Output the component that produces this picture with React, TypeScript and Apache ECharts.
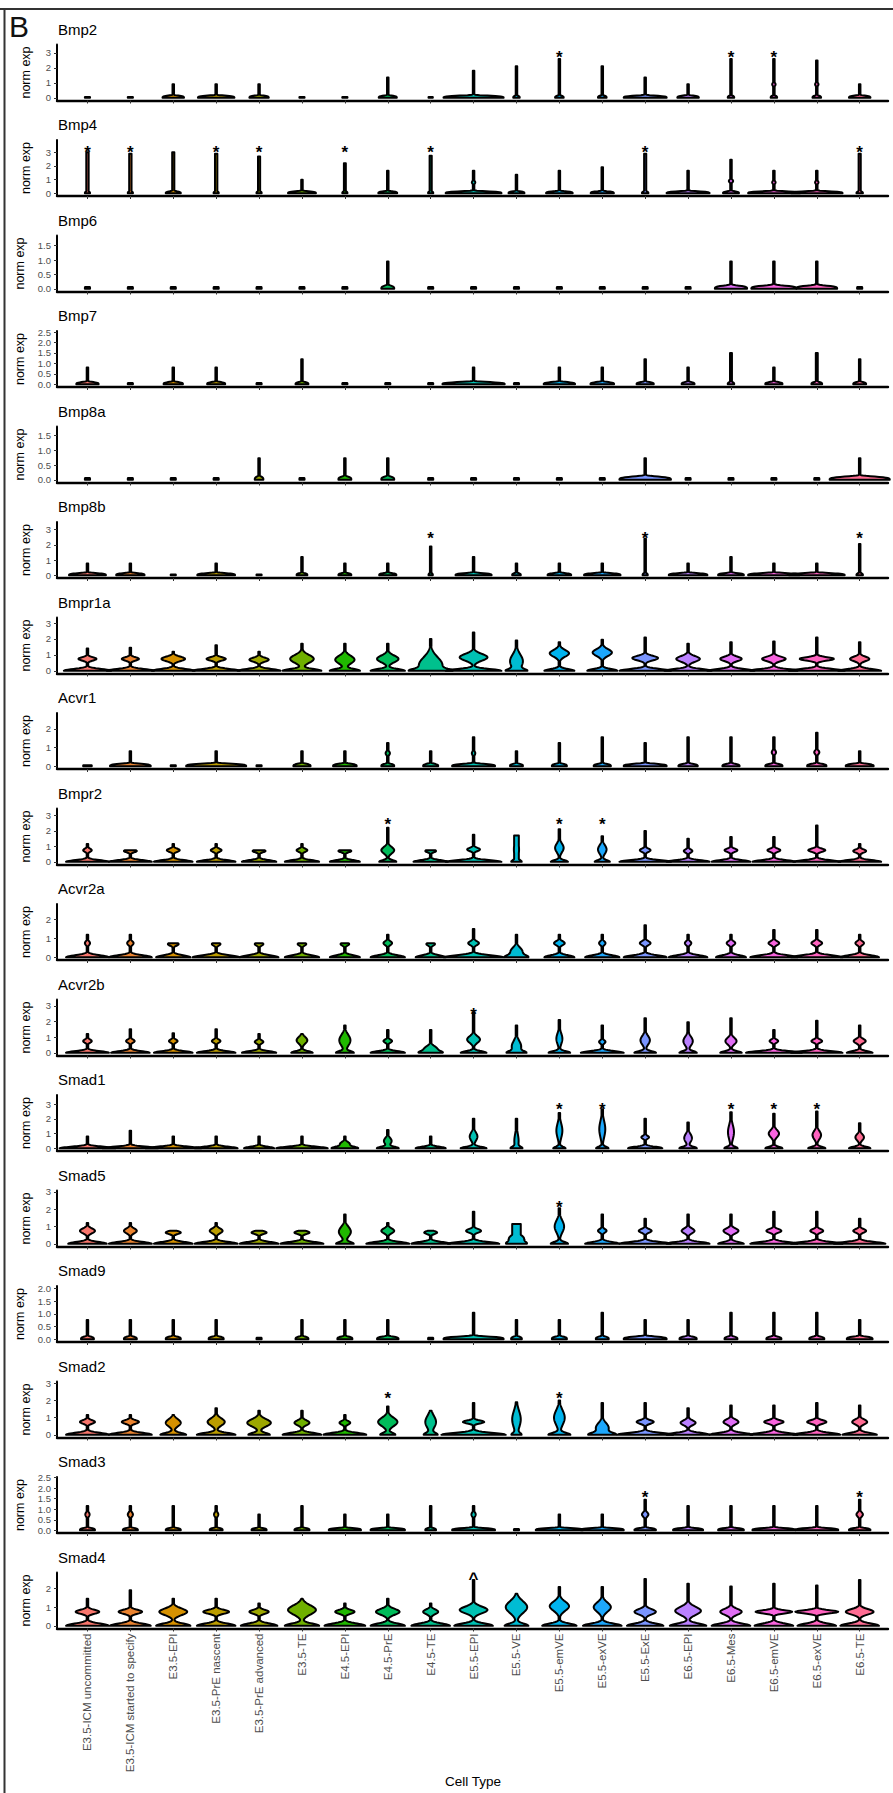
import React, { useEffect, useRef } from 'react';
import * as echarts from 'echarts';

const cellTypes = ['E3.5-ICM uncommitted', 'E3.5-ICM started to specify', 'E3.5-EPI', 'E3.5-PrE nascent', 'E3.5-PrE advanced', 'E3.5-TE', 'E4.5-EPI', 'E4.5-PrE', 'E4.5-TE', 'E5.5-EPI', 'E5.5-VE', 'E5.5-emVE', 'E5.5-exVE', 'E5.5-ExE', 'E6.5-EPI', 'E6.5-Mes', 'E6.5-emVE', 'E6.5-exVE', 'E6.5-TE'];

const palette = ['#F8766D', '#EA8330', '#D69100', '#BC9D00', '#9DA700', '#6FB000', '#20B800', '#00BC5A', '#00C08D', '#00C1B3', '#00BCD3', '#00B3EE', '#1DA7FC', '#7A95FF', '#BA81FF', '#E16EF5', '#F863DE', '#FF62BF', '#FF6C93'];

const genes = ['Bmp2', 'Bmp4', 'Bmp6', 'Bmp7', 'Bmp8a', 'Bmp8b', 'Bmpr1a', 'Acvr1', 'Bmpr2', 'Acvr2a', 'Acvr2b', 'Smad1', 'Smad5', 'Smad9', 'Smad2', 'Smad3', 'Smad4'];
const yMax = [3.56, 3.9, 1.85, 2.55, 1.8, 3.5, 3.35, 2.85, 3.45, 2.82, 3.4, 3.62, 3.08, 2.1, 3.1, 2.52, 2.85];
const yTicks = [[0, 1, 2, 3], [0, 1, 2, 3], [0, 0.5, 1, 1.5], [0, 0.5, 1, 1.5, 2, 2.5], [0, 0.5, 1, 1.5], [0, 1, 2, 3], [0, 1, 2, 3], [0, 1, 2], [0, 1, 2, 3], [0, 1, 2], [0, 1, 2, 3], [0, 1, 2, 3], [0, 1, 2, 3], [0, 0.5, 1, 1.5, 2], [0, 1, 2, 3], [0, 0.5, 1, 1.5, 2, 2.5], [0, 1, 2]];
const tickDecimals = [0, 0, 1, 1, 1, 0, 0, 0, 0, 0, 0, 0, 0, 1, 0, 1, 0];
const starLevel = [3.0, 3.3, 0, 0, 0, 2.7, 0, 0, 2.7, 0, 2.75, 2.93, 2.35, 0, 2.4, 1.75, 2.75];
const starCells = [[11, 15, 16], [0, 1, 3, 4, 6, 8, 13, 18], [], [], [], [8, 13, 18], [], [], [7, 11, 12], [], [9], [11, 12, 15, 16, 17], [11], [], [7, 11], [13, 18], [9]];
const starMark = ['*', '*', '*', '*', '*', '*', '*', '*', '*', '*', '*', '*', '*', '*', '*', '*', '^'];

// violin: [max, baseWidth, peakY, peakWidth, peakSigma, stemWidth]
const D = [0.06, 0.12];
const vBmp2 = [D, D, [0.9, 0.5], [0.9, 0.85], [0.9, 0.45], D, D, [1.35, 0.42], [0.06, 0.1], [1.8, 1.4], [2.1, 0.15], [2.6, 0.2], [2.1, 0.2], [1.35, 1.0], [0.9, 0.5], [2.6, 0.15], [2.6, 0.15, 0.9, 0.08, 0.15], [2.5, 0.2, 0.9, 0.08, 0.15], [0.9, 0.5]];
const vBmp4 = [[3.0, 0.12, 0, 0, 0.2, 0.055], [2.9, 0.12, 0, 0, 0.2, 0.055], [3.0, 0.35, 0, 0, 0.2, 0.05], [2.9, 0.12, 0, 0, 0.2, 0.055], [2.7, 0.12, 0, 0, 0.2, 0.05], [1.0, 0.65], [2.2, 0.12, 0, 0, 0.2, 0.045], [1.65, 0.44], [2.75, 0.12, 0, 0, 0.2, 0.05], [1.65, 1.3, 0.8, 0.08, 0.15], [1.35, 0.37], [1.65, 0.62], [1.9, 0.54], [2.9, 0.15, 0, 0, 0.2, 0.05], [1.65, 1.0], [2.45, 0.37, 0.9, 0.1, 0.15], [1.65, 1.2, 0.8, 0.08, 0.15], [1.65, 1.2, 0.8, 0.08, 0.15], [2.9, 0.15, 0, 0, 0.2, 0.05]];
const vBmp6 = [D, D, D, D, D, D, D, [0.95, 0.3], D, D, D, D, D, D, D, [0.95, 0.75], [0.95, 1.05], [0.95, 0.95], D];
const vBmp7 = [[0.8, 0.52], D, [0.8, 0.45], [0.8, 0.42], D, [1.2, 0.3], D, D, D, [0.8, 1.45], D, [0.8, 0.73], [0.8, 0.55], [1.2, 0.4], [0.8, 0.3], [1.5, 0.15, 0, 0, 0.2, 0.045], [0.8, 0.4], [1.5, 0.25, 0, 0, 0.2, 0.045], [1.2, 0.3]];
const vBmp8a = [D, D, D, D, [0.73, 0.2], D, [0.73, 0.3], [0.73, 0.3], D, D, D, D, D, [0.73, 1.2], D, D, D, D, [0.73, 1.4]];
const vBmp8b = [[0.77, 0.86], [0.77, 0.66], D, [0.77, 0.88], D, [1.2, 0.25], [0.77, 0.3], [0.77, 0.4], [1.9, 0.1], [1.2, 0.84], [0.77, 0.2], [0.77, 0.55], [0.77, 0.85], [2.4, 0.12], [0.77, 0.9], [1.2, 0.6], [0.77, 1.2], [0.77, 1.3], [2.05, 0.15]];
const vBmpr1a = [[1.4, 1.1, 0.75, 0.42, 0.15], [1.45, 1.1, 0.75, 0.4, 0.15], [1.2, 1.0, 0.75, 0.55, 0.2], [1.6, 1.1, 0.75, 0.45, 0.15], [1.2, 1.0, 0.7, 0.45, 0.18], [1.7, 0.9, 0.75, 0.55, 0.35], [1.7, 0.7, 0.7, 0.45, 0.35], [1.7, 0.8, 0.75, 0.5, 0.3], [2.0, 0.6, 0.35, 0.55, 0.7], [2.4, 1.3, 0.85, 0.65, 0.3], [1.9, 0.4, 0.6, 0.3, 0.6], [1.8, 0.7, 1.1, 0.45, 0.3], [1.95, 0.7, 1.15, 0.45, 0.3], [2.1, 1.2, 0.8, 0.6, 0.2], [1.7, 1.1, 0.75, 0.55, 0.25], [1.8, 1.1, 0.75, 0.5, 0.2], [1.85, 1.1, 0.75, 0.55, 0.2], [2.1, 1.3, 0.75, 0.8, 0.15], [1.8, 1.0, 0.75, 0.45, 0.2]];
const vAcvr1 = [[0.06, 0.2], [0.8, 0.95], D, [0.8, 1.4], D, [0.8, 0.4], [0.8, 0.55], [1.25, 0.3, 0.7, 0.1, 0.15], [0.8, 0.35], [1.55, 1.0, 0.7, 0.08, 0.15], [0.8, 0.3], [1.25, 0.35], [1.55, 0.4], [1.25, 1.0], [1.55, 0.45], [1.55, 0.4], [1.55, 0.4, 0.75, 0.1, 0.15], [1.8, 0.45, 0.75, 0.12, 0.15], [0.8, 0.65]];
const vBmpr2 = [[1.15, 1.0, 0.75, 0.2, 0.15], [0.75, 1.0, 0.7, 0.3, 0.12], [1.15, 0.9, 0.75, 0.3, 0.15], [1.15, 0.9, 0.75, 0.25, 0.15], [0.75, 0.8, 0.7, 0.3, 0.12], [1.15, 0.8, 0.75, 0.25, 0.15], [0.75, 0.7, 0.7, 0.3, 0.12], [2.2, 0.4, 0.75, 0.3, 0.3], [0.75, 0.8, 0.7, 0.25, 0.12], [1.75, 1.3, 0.8, 0.3, 0.15], [1.7, 0.2, 0.8, 0.12, 0.8, 0.11], [2.1, 0.4, 0.9, 0.2, 0.4], [1.65, 0.35, 0.8, 0.2, 0.4], [2.0, 1.2, 0.75, 0.25, 0.15], [1.5, 1.0, 0.7, 0.2, 0.15], [1.6, 0.9, 0.75, 0.3, 0.15], [1.6, 1.0, 0.75, 0.3, 0.15], [2.35, 1.1, 0.75, 0.4, 0.15], [1.15, 1.0, 0.7, 0.3, 0.15]];
const vAcvr2a = [[1.2, 1.0, 0.75, 0.12, 0.15], [1.2, 1.0, 0.75, 0.15, 0.15], [0.75, 0.8, 0.7, 0.25, 0.12], [0.75, 1.1, 0.7, 0.2, 0.12], [0.75, 0.9, 0.7, 0.2, 0.12], [0.75, 0.8, 0.7, 0.2, 0.12], [0.75, 0.7, 0.7, 0.2, 0.12], [1.2, 0.8, 0.75, 0.2, 0.15], [0.75, 0.7, 0.7, 0.2, 0.12], [1.5, 1.4, 0.75, 0.25, 0.15], [1.2, 0.45, 0.3, 0.28, 0.3], [1.2, 0.7, 0.75, 0.25, 0.15], [1.2, 0.8, 0.75, 0.15, 0.15], [1.7, 1.0, 0.75, 0.25, 0.15], [1.2, 0.9, 0.75, 0.15, 0.15], [1.2, 0.7, 0.75, 0.2, 0.15], [1.45, 1.1, 0.75, 0.25, 0.15], [1.45, 1.2, 0.75, 0.25, 0.15], [1.2, 0.9, 0.75, 0.2, 0.15]];
const vAcvr2b = [[1.2, 1.0, 0.75, 0.2, 0.15], [1.5, 0.9, 0.75, 0.2, 0.15], [1.25, 0.9, 0.75, 0.2, 0.15], [1.5, 0.9, 0.75, 0.2, 0.15], [1.2, 0.8, 0.7, 0.2, 0.15], [1.2, 0.5, 0.8, 0.25, 0.3], [1.75, 0.4, 0.8, 0.26, 0.5], [1.45, 0.8, 0.75, 0.2, 0.15], [1.45, 0.45, 0.25, 0.3, 0.25], [2.55, 0.6, 0.85, 0.3, 0.3], [1.75, 0.35, 0.4, 0.22, 0.5], [2.1, 0.5, 0.9, 0.14, 0.5], [1.75, 1.0, 0.7, 0.15, 0.15], [2.2, 0.5, 0.8, 0.22, 0.4], [1.95, 0.4, 0.75, 0.22, 0.4], [2.2, 0.5, 0.75, 0.26, 0.3], [1.45, 1.3, 0.75, 0.2, 0.15], [2.05, 1.2, 0.75, 0.25, 0.15], [1.75, 0.6, 0.75, 0.28, 0.2]];
const vSmad1 = [[0.8, 1.3], [1.2, 1.3], [0.8, 1.3], [0.8, 1.0], [0.8, 0.7], [0.8, 1.2], [0.8, 0.6, 0.3, 0.22, 0.2], [1.25, 0.5, 0.5, 0.18, 0.3], [0.8, 0.7], [2.0, 0.6, 0.8, 0.18, 0.4], [2.0, 0.22, 0.5, 0.1, 0.7], [2.4, 0.28, 1.2, 0.14, 0.7], [2.65, 0.28, 1.3, 0.14, 0.8], [2.0, 0.8, 0.75, 0.18, 0.15], [1.75, 0.4, 0.7, 0.18, 0.4], [2.45, 0.3, 1.1, 0.14, 0.7], [2.35, 0.4, 1.0, 0.24, 0.35], [2.5, 0.4, 0.9, 0.2, 0.4], [1.7, 0.5, 0.75, 0.2, 0.3]];
const vSmad5 = [[1.2, 0.9, 0.75, 0.35, 0.2], [1.2, 1.0, 0.75, 0.3, 0.2], [0.75, 0.9, 0.65, 0.35, 0.12], [1.2, 1.0, 0.75, 0.3, 0.2], [0.75, 0.9, 0.65, 0.35, 0.12], [0.75, 1.0, 0.65, 0.35, 0.12], [1.7, 0.4, 0.7, 0.28, 0.4], [1.2, 1.0, 0.75, 0.3, 0.2], [0.75, 0.9, 0.65, 0.3, 0.12], [1.85, 1.2, 0.75, 0.35, 0.15], [1.15, 0.35, 0.3, 0.35, 0.3, 0.2], [2.05, 0.4, 1.0, 0.22, 0.5], [1.7, 0.8, 0.75, 0.2, 0.15], [1.45, 1.2, 0.75, 0.3, 0.15], [1.7, 1.0, 0.75, 0.3, 0.2], [1.7, 0.6, 0.75, 0.35, 0.2], [1.85, 1.1, 0.75, 0.35, 0.15], [1.85, 1.2, 0.75, 0.3, 0.15], [1.45, 1.2, 0.75, 0.3, 0.15]];
const vSmad9 = [[0.76, 0.3], [0.76, 0.3], [0.76, 0.35], [0.76, 0.35], D, [0.76, 0.3], [0.76, 0.35], [0.76, 0.5], D, [1.05, 1.4], [0.76, 0.25], [0.76, 0.35], [1.05, 0.3], [0.76, 1.0], [0.76, 0.4], [1.05, 0.3], [1.05, 0.35], [1.05, 0.35], [0.76, 0.6]];
const vSmad2 = [[1.15, 1.0, 0.75, 0.35, 0.15], [1.15, 1.0, 0.75, 0.4, 0.15], [1.15, 0.6, 0.7, 0.35, 0.3], [1.55, 0.9, 0.75, 0.4, 0.3], [1.4, 0.5, 0.7, 0.55, 0.3], [1.4, 0.9, 0.7, 0.35, 0.2], [1.15, 1.0, 0.7, 0.25, 0.15], [1.65, 0.35, 0.75, 0.45, 0.35], [1.4, 0.3, 0.75, 0.25, 0.5], [1.85, 1.5, 0.75, 0.5, 0.12], [1.9, 0.2, 0.9, 0.2, 0.7], [2.0, 0.5, 1.0, 0.25, 0.6], [1.85, 0.55, 0.4, 0.3, 0.4], [1.85, 1.3, 0.75, 0.4, 0.15], [1.55, 1.0, 0.7, 0.35, 0.2], [1.7, 1.0, 0.75, 0.35, 0.2], [1.7, 1.1, 0.75, 0.45, 0.15], [1.85, 1.1, 0.75, 0.45, 0.15], [1.7, 0.8, 0.75, 0.35, 0.2]];
const vSmad3 = [[1.15, 0.35, 0.75, 0.1, 0.15], [1.15, 0.35, 0.75, 0.12, 0.15], [1.15, 0.35], [1.15, 0.3, 0.75, 0.1, 0.15], [0.75, 0.35], [1.15, 0.35], [0.75, 0.75], [0.75, 0.8], [1.15, 0.25], [1.15, 1.0, 0.75, 0.1, 0.15], D, [0.75, 1.1], [0.75, 1.0], [1.45, 0.5, 0.75, 0.15, 0.15], [1.15, 0.7], [1.15, 0.6], [1.15, 1.0], [1.15, 1.0], [1.45, 0.5, 0.75, 0.15, 0.15]];
const vSmad4 = [[1.45, 1.0, 0.75, 0.55, 0.15], [1.9, 0.95, 0.75, 0.55, 0.15], [1.45, 0.8, 0.75, 0.65, 0.25], [1.45, 0.9, 0.75, 0.6, 0.15], [1.2, 0.85, 0.75, 0.45, 0.15], [1.45, 0.8, 0.85, 0.65, 0.35], [1.2, 0.95, 0.75, 0.45, 0.15], [1.45, 0.8, 0.75, 0.55, 0.22], [1.2, 0.9, 0.75, 0.35, 0.18], [2.45, 0.9, 0.85, 0.65, 0.25], [1.72, 0.55, 1.0, 0.5, 0.45], [2.07, 0.8, 1.05, 0.45, 0.35], [2.07, 0.9, 1.0, 0.4, 0.35], [2.5, 0.85, 0.75, 0.5, 0.2], [2.25, 0.85, 0.8, 0.6, 0.3], [2.1, 0.9, 0.75, 0.5, 0.22], [2.25, 0.9, 0.75, 0.85, 0.12], [2.15, 0.9, 0.75, 1.0, 0.12], [2.45, 0.9, 0.75, 0.65, 0.2]];

const violins = [vBmp2, vBmp4, vBmp6, vBmp7, vBmp8a, vBmp8b, vBmpr1a, vAcvr1, vBmpr2, vAcvr2a, vAcvr2b, vSmad1, vSmad5, vSmad9, vSmad2, vSmad3, vSmad4];

// base-lobe shape per gene (density spread at zero): [sigma, power]
const baseShape = [[0.16, 4], [0.16, 4], [0.12, 4], [0.12, 4], [0.12, 4], [0.16, 4], [0.16, 2], [0.15, 4], [0.15, 2], [0.15, 2], [0.15, 2], [0.15, 2], [0.15, 2], [0.12, 4], [0.16, 2], [0.12, 4], [0.17, 2]];

const FONT = "'Liberation Sans', Arial, Helvetica, sans-serif";

export default function App() {
  const ref = useRef<HTMLDivElement>(null);
  useEffect(() => {
    document.body.style.margin = '0';
    const chart = echarts.init(ref.current as HTMLDivElement, undefined, { renderer: 'svg' });
    const grids: any[] = [];
    const xAxes: any[] = [];
    const yAxes: any[] = [];
    const series: any[] = [];
    const graphics: any[] = [];
    const catIdx = cellTypes.map((_, k) => k);

    genes.forEach((g, i) => {
      const top = 44.5 + 95.5 * i;
      const last = i === genes.length - 1;
      const [sb, bp] = baseShape[i];
      grids.push({ left: 57, right: 5, top, height: 56 });
      xAxes.push({
        type: 'value', gridIndex: i, min: -0.71, max: 18.66,
        splitLine: { show: false },
        axisLine: { show: true, onZero: false, lineStyle: { color: '#000', width: 2.4 } },
        axisTick: { show: true, customValues: catIdx, length: 3, lineStyle: { color: '#333', width: 1 } },
        axisLabel: {
          show: last, customValues: catIdx, rotate: 90, fontSize: 11.5, color: '#4d4d4d',
          fontFamily: FONT, margin: 5,
          formatter: (v: number) => cellTypes[Math.round(v)] ?? '',
        },
      });
      yAxes.push({
        type: 'value', gridIndex: i, min: -0.05 * yMax[i], max: yMax[i],
        splitLine: { show: false },
        axisLine: { show: true, onZero: false, lineStyle: { color: '#000', width: 2 } },
        axisTick: { show: true, customValues: yTicks[i], length: 3, lineStyle: { color: '#333', width: 1 } },
        axisLabel: {
          customValues: yTicks[i], fontSize: 9.5, color: '#4d4d4d', fontFamily: FONT, margin: 6,
          formatter: (v: number) => (tickDecimals[i] ? v.toFixed(1) : String(Math.round(v))),
        },
        name: 'norm exp', nameLocation: 'middle', nameRotate: 90, nameGap: 25,
        nameTextStyle: { fontSize: 12.5, color: '#000', fontFamily: FONT },
      });
      const stars = starCells[i];
      series.push({
        type: 'custom', xAxisIndex: i, yAxisIndex: i, clip: false,
        data: violins[i].map((t: number[], k: number) => [k, t[0], t[1], t[2] ?? 0, t[3] ?? 0, t[4] ?? 0.2, t[5] ?? 0.035, stars.includes(k) ? 1 : 0]),
        encode: { x: 0, y: 1 },
        renderItem: (params: any, api: any) => {
          const k = api.value(0);
          const mx = api.value(1);
          const base = api.value(2);
          const py = api.value(3);
          const pw = api.value(4);
          const ps = api.value(5);
          const stem = api.value(6);
          const star = api.value(7);
          const band = api.size([1, 0])[0];
          const N = 60;
          const leftPts: number[][] = [];
          const rightPts: number[][] = [];
          for (let j = 0; j <= N; j++) {
            const y = (mx * j) / N;
            const w = Math.max(stem, base * Math.exp(-Math.pow(y / sb, bp)) + (pw > 0 ? pw * Math.exp(-Math.pow((y - py) / ps, 2)) : 0));
            const hw = 0.5 * band * w;
            const c = api.coord([k, y]);
            leftPts.push([c[0] - hw, c[1]]);
            rightPts.push([c[0] + hw, c[1]]);
          }
          const pts = leftPts.concat(rightPts.reverse());
          const children: any[] = [{
            type: 'polygon', shape: { points: pts },
            style: { fill: palette[k], stroke: '#000', lineWidth: 2, lineJoin: 'round' },
          }];
          if (star) {
            const c = api.coord([k, starLevel[i]]);
            children.push({
              type: 'text', x: c[0], y: c[1] + 4.5,
              style: { text: starMark[i], fontSize: 17, fontWeight: 'bold', fill: '#000', align: 'center', verticalAlign: 'middle', fontFamily: FONT },
            });
          }
          return { type: 'group', children };
        },
      });
      graphics.push({
        type: 'text', x: 58, y: 29 + 95.5 * i,
        style: { text: g, fontSize: 15, fill: '#000', verticalAlign: 'middle', fontFamily: FONT },
      });
    });

    graphics.push({ type: 'text', x: 9, y: 26, style: { text: 'B', fontSize: 30, fill: '#111', verticalAlign: 'middle', fontFamily: FONT } });
    graphics.push({ type: 'text', x: 473, y: 1781, style: { text: 'Cell Type', fontSize: 13.5, fill: '#000', align: 'center', verticalAlign: 'middle', fontFamily: FONT } });
    graphics.push({ type: 'line', shape: { x1: 0, y1: 9, x2: 893, y2: 9 }, style: { stroke: '#333', lineWidth: 2 } });
    graphics.push({ type: 'line', shape: { x1: 4.5, y1: 9, x2: 4.5, y2: 1793 }, style: { stroke: '#333', lineWidth: 2 } });

    chart.setOption({
      animation: false,
      backgroundColor: '#fff',
      grid: grids,
      xAxis: xAxes,
      yAxis: yAxes,
      series,
      graphic: graphics,
    });
    return () => chart.dispose();
  }, []);
  return <div ref={ref} style={{ width: 893, height: 1793 }} />;
}
